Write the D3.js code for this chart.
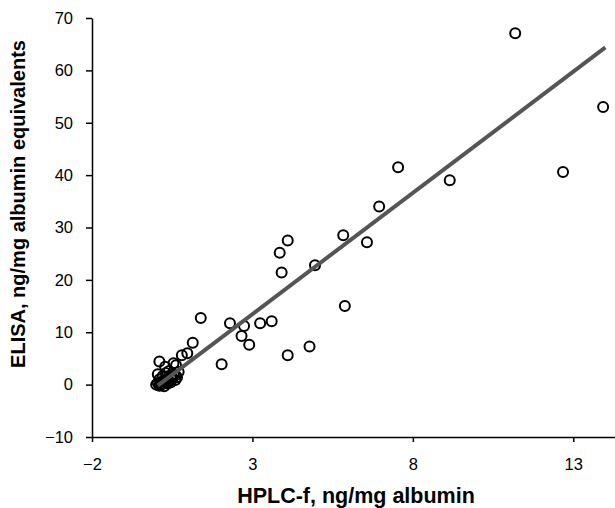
<!DOCTYPE html>
<html>
<head>
<meta charset="utf-8">
<script src="https://cdn.jsdelivr.net/npm/d3@7/dist/d3.min.js"></script>
<style>
  body { margin: 0; background: #fff; }
  svg { display: block; font-family: "Liberation Sans", Arial, sans-serif; }
</style>
</head>
<body>
<svg id="chart" width="615" height="508"></svg>
<script>
// HPLC-f (x) vs ELISA (y)
const hplc = [
  11.19, 13.93, 12.68, 9.15, 7.54, 6.95, 5.83, 6.57, 5.88, 4.95,
  4.10, 3.85, 3.91, 4.10, 4.78, 3.60, 3.24, 2.74, 2.66, 2.30,
  2.90, 2.04, 1.39, 1.14, 0.97, 0.80, 0.62, 0.54, 0.28, 0.10,
  0.00, 0.05, 0.10, 0.15, 0.20, 0.25, 0.30, 0.35, 0.40, 0.45,
  0.50, 0.55, 0.60, 0.10, 0.20, 0.30, 0.05, 0.40, 0.60, 0.70,
  0.15, 0.25, 0.35, 0.45, 0.65
];
const elisa = [
  67.1, 53.0, 40.6, 39.0, 41.5, 34.0, 28.5, 27.2, 15.0, 22.8,
  27.5, 25.2, 21.4, 5.6, 7.3, 12.1, 11.7, 11.2, 9.3, 11.7,
  7.6, 3.9, 12.7, 8.0, 6.0, 5.6, 3.7, 4.1, 3.4, 4.4,
  0.0, 0.3, -0.2, 0.5, 0.1, 0.8, 0.4, 1.0, 0.6, 1.5,
  1.2, 2.0, 1.8, 1.0, 1.6, 2.2, 2.0, 2.6, 0.9, 2.4,
  0.0, -0.3, 0.2, 0.4, 1.4
];
const fitX = [0.05, 14.0];
const fitY = [-0.2, 64.4];
const xTicks = [-2, 3, 8, 13];
const yTicks = [-10, 0, 10, 20, 30, 40, 50, 60, 70];

const svg = d3.select("#chart");
const x = d3.scaleLinear().domain([-2, 14.3]).range([92, 615]);
const y = d3.scaleLinear().domain([-10, 70]).range([437, 18]);

// axes
const xAxis = svg.append("g")
  .attr("transform", "translate(0," + y(-10) + ")")
  .call(d3.axisBottom(x).tickValues(xTicks).tickSize(5).tickSizeOuter(0).tickPadding(16));
const yAxis = svg.append("g")
  .attr("transform", "translate(" + x(-2) + ",0)")
  .call(d3.axisLeft(y).tickValues(yTicks).tickSize(6).tickSizeOuter(0).tickPadding(13));

[xAxis, yAxis].forEach((a) => {
  a.select(".domain").attr("stroke", "#000").attr("stroke-width", 1.5);
  a.selectAll(".tick line").attr("stroke", "#000").attr("stroke-width", 1.5);
  a.selectAll(".tick text")
    .attr("fill", "#000")
    .style("font-size", "16.5px")
    .style("font-family", "Liberation Sans, Arial, sans-serif");
});

// points
const pts = hplc.map((d, i) => ({ x: d, y: elisa[i] }));
svg.append("g").selectAll("circle")
  .data(pts)
  .enter().append("circle")
  .attr("cx", (d) => x(d.x))
  .attr("cy", (d) => y(d.y))
  .attr("r", 5)
  .attr("fill", "none")
  .attr("stroke", "#000")
  .attr("stroke-width", 2);

// fit line
svg.append("line")
  .attr("x1", x(fitX[0])).attr("y1", y(fitY[0]))
  .attr("x2", x(fitX[1])).attr("y2", y(fitY[1]))
  .attr("stroke", "#555")
  .attr("stroke-width", 4);

// axis titles
svg.append("text")
  .attr("x", 356).attr("y", 503)
  .attr("text-anchor", "middle")
  .style("font-size", "21.5px").style("font-weight", "bold")
  .text("HPLC-f, ng/mg albumin");

svg.append("text")
  .attr("transform", "translate(25,204) rotate(-90)")
  .attr("text-anchor", "middle")
  .style("font-size", "20px").style("font-weight", "bold")
  .text("ELISA, ng/mg albumin equivalents");
</script>
</body>
</html>
